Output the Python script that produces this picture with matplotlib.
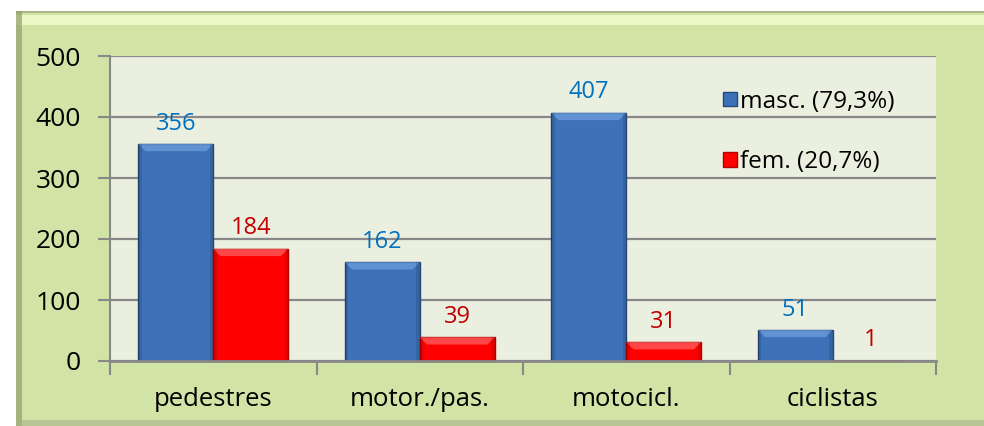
import numpy as np
import matplotlib
matplotlib.use('Agg')
import matplotlib.pyplot as plt
from matplotlib.patches import Rectangle, Polygon

plt.rcParams['font.family'] = ['Open Sans', 'DejaVu Sans']

# datos
categorias = ['pedestres', 'motor./pas.', 'motocicl.', 'ciclistas']
masc = [356, 162, 407, 51]
fem = [184, 39, 31, 1]
leyenda = ['masc. (79,3%)', 'fem. (20,7%)']
yticks = [0, 100, 200, 300, 400, 500]

W, H = 984, 426
fig = plt.figure(figsize=(W / 100, H / 100), dpi=100)
fig.patch.set_facecolor('white')

# panel verde de fondo (con bisel)
x0 = 16 / W
ytop = (H - 11) / H
fondo = [
    ((x0, 0), 1 - x0, ytop, '#d2e3a6', 1.0),
    ((x0, ytop - 1.5 / H), 1 - x0, 1.5 / H, '#a9b98a', 1.0),
    ((x0, ytop - 14 / H), 1 - x0, 10 / H, '#f4fbd0', 0.8),
    ((x0, 0), 6 / W, ytop, '#8f9f6a', 0.7),
    ((x0, 0), 1 - x0, 6 / H, '#a6b488', 0.6),
]
for xy, ww, hh, c, a in fondo:
    fig.patches.append(Rectangle(xy, ww, hh, transform=fig.transFigure,
                                 facecolor=c, edgecolor='none', alpha=a, zorder=-10))

ax = fig.add_axes([110 / W, 65 / H, 826 / W, 305 / H])
ax.set_zorder(5)
ax.set_facecolor('#ebefdf')

x = np.arange(len(categorias))
w = 0.363
b1 = ax.bar(x - w / 2, masc, w, color='#3d72b8', edgecolor='#24487a', linewidth=1, zorder=3)
b2 = ax.bar(x + w / 2, fem, w, color='#ff0000', edgecolor='#b00000', linewidth=1, zorder=3)
for r in list(b1) + list(b2):
    if r.get_height() < 3:
        r.set_linewidth(0)

# bisel superior de las barras
dx = 0.035
dy = 12
for bars, light in ((b1, '#6fa0e0'), (b2, '#ff6666')):
    for r in bars:
        h = r.get_height()
        if h < 2 * dy:
            continue
        xl, xr = r.get_x(), r.get_x() + r.get_width()
        ax.add_patch(Polygon([(xl, h), (xr, h), (xr - dx, h - dy), (xl + dx, h - dy)],
                             closed=True, facecolor=light, edgecolor='none', alpha=0.7, zorder=4))
        ax.add_patch(Rectangle((xl, 0), dx * 0.5, h, facecolor='black', alpha=0.12,
                               edgecolor='none', zorder=4))
        ax.add_patch(Rectangle((xr - dx * 0.5, 0), dx * 0.5, h, facecolor='black', alpha=0.12,
                               edgecolor='none', zorder=4))

for r, v in zip(b1, masc):
    ax.annotate(str(v), (r.get_x() + r.get_width() / 2, v), xytext=(0, 6),
                textcoords='offset points', ha='center', va='bottom',
                color='#0070c0', fontsize=17)
for r, v in zip(b2, fem):
    ax.annotate(str(v), (r.get_x() + r.get_width() / 2, v), xytext=(0, 6),
                textcoords='offset points', ha='center', va='bottom',
                color='#c00000', fontsize=17)

ax.set_ylim(0, 500)
ax.set_xlim(-0.5, len(categorias) - 0.5)
ax.set_yticks(yticks)
ax.set_yticklabels([str(t) for t in yticks], fontsize=19)
ax.yaxis.grid(True, color='#888888', linewidth=1.6, zorder=1)
ax.set_axisbelow(True)

ax.set_xticks(x)
ax.set_xticklabels(categorias, fontsize=18.5)
ax.set_xticks(np.arange(len(categorias) + 1) - 0.5, minor=True)
ax.tick_params(axis='x', which='major', length=0, pad=19)
ax.tick_params(axis='x', which='minor', length=10, width=1.5, color='#888888')
ax.tick_params(axis='y', length=9, width=1.5, color='#888888', pad=12)

for s in ['top', 'right']:
    ax.spines[s].set_visible(False)
ax.spines['left'].set_color('#888888')
ax.spines['left'].set_linewidth(1.5)
ax.spines['bottom'].set_color('#888888')
ax.spines['bottom'].set_linewidth(2)
ax.spines['bottom'].set_zorder(6)

leg = ax.legend([b1, b2], leyenda, loc='upper left', bbox_to_anchor=(0.728, 0.93),
                frameon=False, fontsize=17.5, handlelength=0.55, handleheight=0.55,
                handletextpad=0.15, labelspacing=1.5, borderpad=0)

fig.savefig('out.png', dpi=100, facecolor=fig.get_facecolor())
